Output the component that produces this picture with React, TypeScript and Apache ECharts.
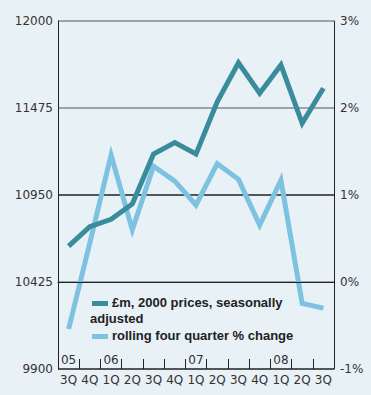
import React, { useEffect, useRef } from "react";
import * as echarts from "echarts";

const quarters = ["3Q", "4Q", "1Q", "2Q", "3Q", "4Q", "1Q", "2Q", "3Q", "4Q", "1Q", "2Q", "3Q"];
const years = ["05", "", "06", "", "", "", "07", "", "", "", "08", "", ""];
const salesValues = [10642, 10759, 10803, 10896, 11197, 11266, 11197, 11513, 11748, 11564, 11735, 11383, 11594];
const changeValues = [-0.54, 0.45, 1.46, 0.6, 1.33, 1.16, 0.885, 1.36, 1.18, 0.655, 1.17, -0.245, -0.3];
const leftTicks = { min: 9900, max: 12000, interval: 525 };
const rightTicks = { min: -1, max: 3, interval: 1 };
const seriesNames = ["£m, 2000 prices, seasonally adjusted", "rolling four quarter % change"];

const DARK = "#3a8b9b";
const LIGHT = "#7dc2e0";
const BG = "#e8f1f6";
const AXIS_FONT = "DejaVu Sans";
const LEGEND_FONT = "bold 13px 'Liberation Sans'";

export default function App() {
  const ref = useRef<HTMLDivElement>(null);
  useEffect(() => {
    if (!ref.current) return;
    const chart = echarts.init(ref.current, null, { renderer: "svg" });
    chart.setOption({
      animation: false,
      backgroundColor: BG,
      grid: { left: 58, right: 37, top: 21, bottom: 26 },
      xAxis: [
        {
          type: "category",
          data: quarters,
          boundaryGap: true,
          axisLine: { show: true, lineStyle: { color: "#222", width: 1 } },
          axisTick: { show: false },
          axisLabel: { interval: 0, margin: 5, color: "#333", fontFamily: AXIS_FONT, fontSize: 12 },
          z: 5,
        },
        {
          type: "category",
          data: years,
          position: "bottom",
          boundaryGap: true,
          axisLine: { show: false },
          axisTick: { show: true, inside: true, length: 10, interval: 0, lineStyle: { color: "#222", width: 1 } },
          axisLabel: { inside: true, interval: 0, margin: 3, color: "#333", fontFamily: AXIS_FONT, fontSize: 12 },
          z: 5,
        },
      ],
      yAxis: [
        {
          type: "value",
          ...leftTicks,
          position: "left",
          axisLine: { show: true, lineStyle: { color: "#222", width: 1 } },
          axisTick: { show: false },
          axisLabel: { margin: 5, color: "#333", fontFamily: AXIS_FONT, fontSize: 12, formatter: (v: number) => String(v) },
          splitLine: {
            show: true,
            lineStyle: { color: ["#222", "#888", "#222", "#888", "#888"], width: 1.5 },
          },
        },
        {
          type: "value",
          ...rightTicks,
          position: "right",
          axisLine: { show: true, lineStyle: { color: "#222", width: 1 } },
          axisTick: { show: false },
          axisLabel: { margin: 6, color: "#333", fontFamily: AXIS_FONT, fontSize: 12, formatter: "{value}%" },
          splitLine: { show: false },
        },
      ],
      series: [
        {
          name: seriesNames[1],
          type: "line",
          yAxisIndex: 1,
          data: changeValues,
          symbol: "none",
          lineStyle: { color: LIGHT, width: 5, join: "miter" },
          z: 3,
        },
        {
          name: seriesNames[0],
          type: "line",
          yAxisIndex: 0,
          data: salesValues,
          symbol: "none",
          lineStyle: { color: DARK, width: 5, join: "miter" },
          z: 4,
        },
      ],
      graphic: [
        { type: "rect", left: 92, top: 301, shape: { width: 16, height: 5 }, style: { fill: DARK } },
        { type: "text", left: 112, top: 296, style: { text: "£m, 2000 prices, seasonally", fill: "#222", font: LEGEND_FONT } },
        { type: "text", left: 90, top: 312, style: { text: "adjusted", fill: "#222", font: LEGEND_FONT } },
        { type: "rect", left: 92, top: 334, shape: { width: 16, height: 5 }, style: { fill: LIGHT } },
        { type: "text", left: 112, top: 329, style: { text: "rolling four quarter % change", fill: "#222", font: LEGEND_FONT } },
      ],
    });
    return () => chart.dispose();
  }, []);
  return <div ref={ref} style={{ position: "fixed", left: 0, top: 0, width: 371, height: 395 }} />;
}
